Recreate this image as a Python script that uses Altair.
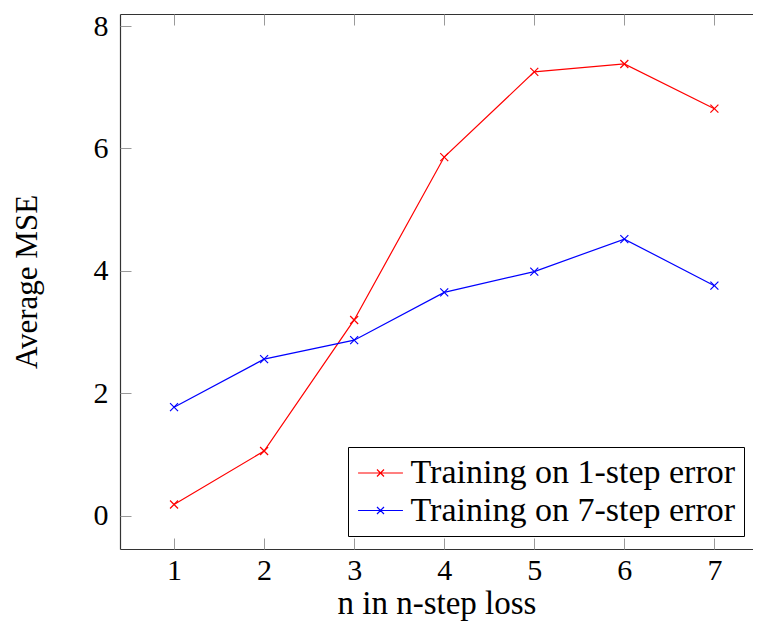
import altair as alt
import pandas as pd

# ---- data ----
steps = [1, 2, 3, 4, 5, 6, 7]
one_step_mse = [0.186, 1.06, 3.20, 5.86, 7.25, 7.38, 6.65]
seven_step_mse = [1.776, 2.56, 2.87, 3.65, 3.99, 4.52, 3.76]
series_names = ["Training on 1-step error", "Training on 7-step error"]
series_colors = ["#ff0000", "#0000ff"]
x_ticks = [1, 2, 3, 4, 5, 6, 7]
y_ticks = [0, 2, 4, 6, 8]

df = pd.DataFrame({
    "n": steps + steps,
    "mse": one_step_mse + seven_step_mse,
    "series": [series_names[0]] * len(steps) + [series_names[1]] * len(steps),
})

FONT = "Liberation Serif"
XMARK = "M-1,-1L1,1M-1,1L1,-1"
LEGSYM = "M-1.32,0L1.32,0M-0.206,-0.206L0.206,0.206M-0.206,0.206L0.206,-0.206"
TICK_COLOR = "#9a9a9a"
FRAME_COLOR = "#333333"

W, H = 633, 535
x_scale = alt.Scale(domain=[0.4, 7.4287], nice=False, zero=False)
y_scale = alt.Scale(domain=[-0.540, 8.196], nice=False, zero=False)
color_scale = alt.Scale(domain=series_names, range=series_colors)

ax_bottom = alt.Axis(orient="bottom", offset=-11, tickSize=11, domain=False, grid=False,
                     values=x_ticks, format="d", labelFont=FONT, labelFontSize=30,
                     labelColor="black", labelPadding=6, labelFlush=False,
                     tickColor=TICK_COLOR, tickWidth=1,
                     title="n in n-step loss", titleFont=FONT, titleFontSize=33,
                     titleFontWeight="normal", titleColor="black", titlePadding=2)
ax_left = alt.Axis(orient="left", offset=-11, tickSize=11, domain=False, grid=False,
                   values=y_ticks, format="d", labelFont=FONT, labelFontSize=30,
                   labelColor="black", labelPadding=12, labelFlush=False,
                   tickColor=TICK_COLOR, tickWidth=1,
                   title="Average MSE", titleFont=FONT, titleFontSize=31,
                   titleFontWeight="normal", titleColor="black", titlePadding=50)
ax_top_ticks = alt.Axis(orient="top", offset=-11, tickSize=11, domain=False, grid=False,
                        values=x_ticks, labels=False, tickColor=TICK_COLOR, tickWidth=1)
ax_bottom_frame = alt.Axis(orient="bottom", domain=True, ticks=False, labels=False, grid=False,
                           domainColor=FRAME_COLOR, domainWidth=1.2)
ax_left_frame = alt.Axis(orient="left", domain=True, ticks=False, labels=False, grid=False,
                         domainColor=FRAME_COLOR, domainWidth=1.2)
ax_top_frame = alt.Axis(orient="top", domain=True, ticks=False, labels=False, grid=False,
                        domainColor=FRAME_COLOR, domainWidth=1.2)

legend = alt.Legend(orient="none", legendX=228, legendY=433, title=None,
                    symbolType=LEGSYM, symbolSize=1156, symbolStrokeWidth=1.2,
                    symbolOffset=6.5,
                    labelFont=FONT, labelFontSize=34, labelColor="black",
                    labelOffset=12, labelLimit=600, rowPadding=2.5, padding=8,
                    strokeColor="black", fillColor="white", direction="vertical")

main = alt.Chart(df).mark_line(
    strokeWidth=1.2,
    point=alt.OverlayMarkDef(shape=XMARK, filled=False, size=64, strokeWidth=1.2),
).encode(
    x=alt.X("n:Q", scale=x_scale, axis=ax_bottom),
    y=alt.Y("mse:Q", scale=y_scale, axis=ax_left),
    color=alt.Color("series:N", scale=color_scale, legend=legend, sort=series_names),
)

def ghost(xax, yax):
    enc = {"x": alt.X("n:Q", scale=x_scale, axis=xax, title=None)}
    if yax is not None:
        enc["y"] = alt.Y("mse:Q", scale=y_scale, axis=yax, title=None)
    else:
        enc["y"] = alt.Y("mse:Q", scale=y_scale, axis=None)
    return alt.Chart(df).mark_point(opacity=0).encode(**enc)

chart = alt.layer(
    ghost(ax_bottom_frame, ax_left_frame),
    ghost(ax_top_frame, None),
    ghost(ax_top_ticks, None),
    main,
).resolve_axis(x="independent", y="independent").properties(
    width=W, height=H,
    padding={"left": 112, "top": 6, "right": 0, "bottom": 73},
    autosize=alt.AutoSizeParams(type="none"),
).configure_view(stroke=None)

chart.save("out.html", embed_options={"renderer": "svg", "actions": False})
